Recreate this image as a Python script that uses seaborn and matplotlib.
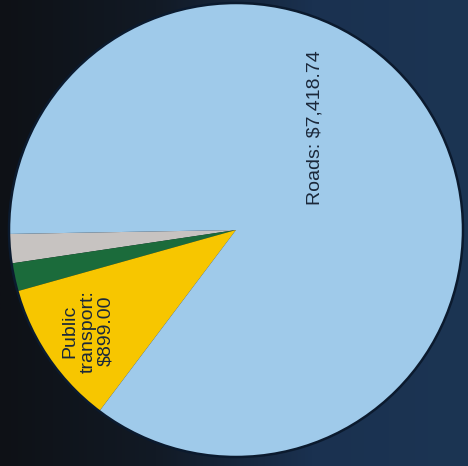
import numpy as np
import matplotlib
matplotlib.use("Agg")
import matplotlib.pyplot as plt
from matplotlib.patches import Circle
import seaborn as sns

# Transport spending by category
categories = ["Other", "Active transport", "Public transport", "Roads"]
spending = [180.0, 173.0, 899.00, 7418.74]
slice_colors = ["#c7c3c1", "#1b6b3b", "#f7c600", "#9fcaea"]
labels_shown = {"Public transport": "Public\ntransport:\n$899.00",
                "Roads": "Roads: $7,418.74"}

sns.set_theme(style="white")
plt.rcParams["font.family"] = ["Liberation Sans", "DejaVu Sans"]

fig = plt.figure(figsize=(4.68, 4.66), dpi=100)
ax = fig.add_axes([0, 0, 1, 1])

xlim = (-236 / 227, (468 - 236) / 227)
ylim = (-(466 - 230) / 227, 230 / 227)

# Horizontal dark-to-navy background gradient
grad = np.linspace(0, 1, 256)[None, :]
bg = sns.blend_palette(["#0e1116", "#121a25", "#1a3150", "#1c3553"], as_cmap=True)
ax.imshow(grad, cmap=bg, aspect="auto", extent=(*xlim, *ylim), zorder=0)

wedges, _ = ax.pie(spending, colors=sns.color_palette(slice_colors),
                   startangle=181, counterclock=True, radius=1.0,
                   wedgeprops=dict(linewidth=0), center=(0, 0))
for w in wedges:
    w.set_zorder(2)
ax.add_patch(Circle((0, 0), 1.0, fill=False, edgecolor="#0b1a2e",
                    linewidth=1.8, zorder=3))

# Labels along the slices
total = sum(spending)
start = 181.0
label_place = {"Public transport": (None, 0.79), "Roads": (52.6, 0.57)}
for cat, val in zip(categories, spending):
    span = val / total * 360
    if cat in labels_shown:
        ang, r = label_place[cat]
        if ang is None:
            ang = start + span / 2
        x = r * np.cos(np.radians(ang))
        y = r * np.sin(np.radians(ang))
        ax.text(x, y, labels_shown[cat], rotation=90, ha="center", va="center",
                multialignment="center", fontsize=14, color="#1b283a",
                linespacing=1.08, parse_math=False, zorder=4)
    start += span

ax.set_xlim(*xlim)
ax.set_ylim(*ylim)
ax.set_aspect("auto")
ax.axis("off")

fig.savefig("out.png", dpi=100)
